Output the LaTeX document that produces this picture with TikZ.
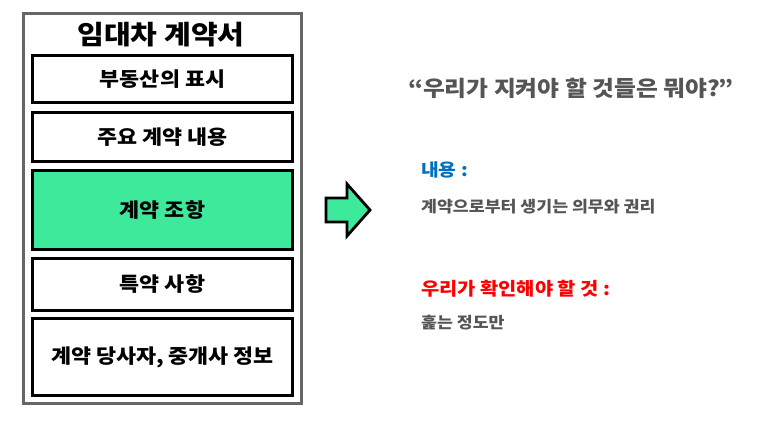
\documentclass[tikz,border=0pt]{standalone}
\usepackage{fontspec}
\setmainfont{Noto Sans CJK KR}[FakeStretch=1.1]
\definecolor{mint}{RGB}{61,233,155}
\definecolor{txtgray}{RGB}{85,85,85}
\definecolor{outergray}{RGB}{102,102,102}
\definecolor{kblue}{RGB}{0,112,192}
\definecolor{kred}{RGB}{255,0,0}
\begin{document}
\begin{tikzpicture}[x=1pt,y=-1pt,
  sect/.style={draw=black,line width=2.8pt,fill=white,font=\bfseries\fontsize{19.8}{22}\selectfont},
  lefttxt/.style={anchor=west,inner sep=0pt,font=\bfseries}]
\useasboundingbox (0,0) rectangle (759,423);
\node[draw=outergray,line width=3pt,fill=white,minimum width=278pt,minimum height=390pt,anchor=north west,inner sep=0pt] (frame) at (22,12) {};
\node[inner sep=0pt,font=\bfseries\fontsize{26.4}{29}\selectfont] (title) at (161,35) {임대차 계약서};
\node[sect,minimum width=260pt,minimum height=47pt,inner sep=0pt] (s1) at (162.5,79) {부동산의 표시};
\node[sect,minimum width=260pt,minimum height=49pt,inner sep=0pt] (s2) at (162.5,137) {주요 계약 내용};
\node[sect,fill=mint,minimum width=260pt,minimum height=79pt,inner sep=0pt] (s3) at (162.5,210) {계약 조항};
\node[sect,minimum width=260pt,minimum height=52pt,inner sep=0pt] (s4) at (162.5,284.5) {특약 사항};
\node[sect,minimum width=260pt,minimum height=77pt,inner sep=0pt] (s5) at (162.5,357) {계약 당사자, 중개사 정보};
\draw[line width=2.8pt,fill=mint,line join=miter] (326,198) -- (347,198) -- (347,184) -- (370,210) -- (347,236) -- (347,222) -- (326,222) -- cycle;
\node[inner sep=0pt,text=txtgray,font=\bfseries\fontsize{21.6}{24}\selectfont] (q) at (571,88) {“우리가 지켜야 할 것들은 뭐야?”};
\node[lefttxt,text=kblue,font=\bfseries\fontsize{17.5}{19}\selectfont] (h1) at (421,170) {내용 :};
\node[lefttxt,text=txtgray,font=\bfseries\fontsize{15.7}{18}\selectfont] (t1) at (421,207) {계약으로부터 생기는 의무와 권리};
\node[lefttxt,text=kred,font=\bfseries\fontsize{18}{20}\selectfont] (h2) at (421,289) {우리가 확인해야 할 것 :};
\node[lefttxt,text=txtgray,font=\bfseries\fontsize{15.7}{18}\selectfont] (t2) at (421,323) {훑는 정도만};
\end{tikzpicture}
\end{document}
